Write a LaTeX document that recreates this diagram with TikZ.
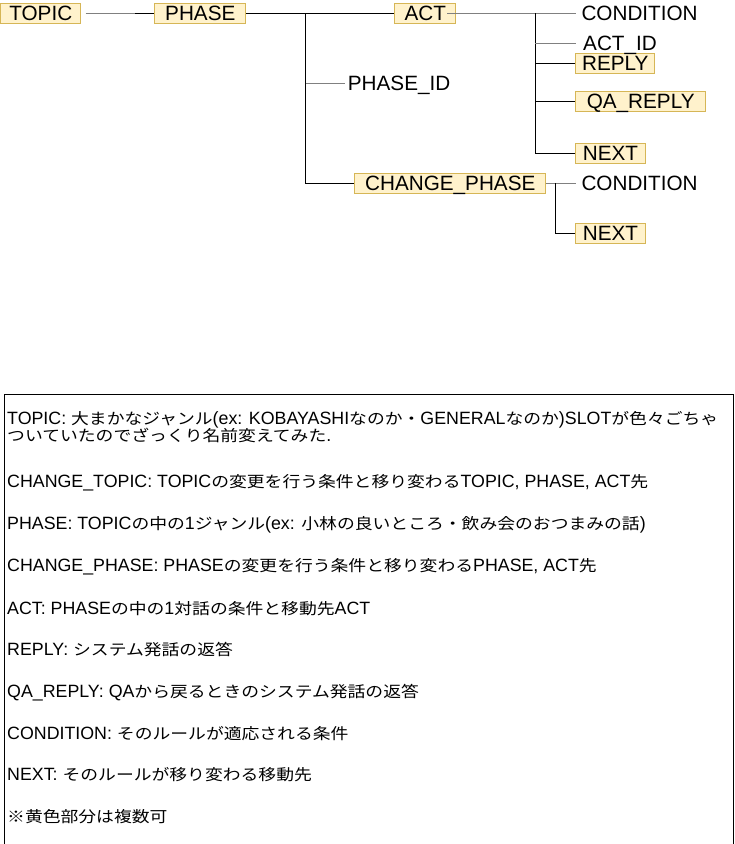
\documentclass[tikz,border=0pt]{standalone}
\usepackage{fontspec}
\setmainfont{Liberation Sans}
\newfontfamily\jp[Scale=0.87, FakeStretch=1.15]{Noto Sans CJK JP}
\newcommand\diagfont{\fontsize{20.7pt}{24pt}\selectfont}
\newcommand\notefont{\fontsize{17.8pt}{21pt}\selectfont}
\definecolor{boxfill}{HTML}{FFF2CC}
\definecolor{boxline}{HTML}{D6B656}
\definecolor{linegray}{HTML}{808080}
\tikzset{
  ybox/.style={draw=boxline, fill=boxfill, line width=1pt, inner sep=0pt,
    minimum height=20pt, text height=14.8pt, text depth=0pt, font=\diagfont},
  lbl/.style={inner sep=0pt, anchor=west, text height=14.8pt, text depth=0pt, font=\diagfont},
  blk/.style={draw=black, line width=1.2pt},
  gry/.style={draw=linegray, line width=1.6pt},
  note/.style={inner sep=0pt, anchor=base west, font=\notefont},
}
\begin{document}
\begin{tikzpicture}[x=1pt,y=-1pt]
\useasboundingbox (0,0) rectangle (735,844);
% tree boxes
\node[ybox, minimum width=80pt]    (topic)   at (40.8,13.3)  {TOPIC};
\node[ybox, minimum width=90.7pt]  (phase)   at (200.3,13.3) {PHASE};
\node[ybox, minimum width=60.7pt]  (act)     at (425.3,13.3) {ACT};
\node[ybox, minimum width=79.3pt]  (reply)   at (615.3,63.3) {REPLY};
\node[ybox, minimum width=130pt]   (qareply) at (640.7,101.3) {QA\_REPLY};
\node[ybox, minimum width=69.6pt]  (next1)   at (610.5,153.3) {NEXT};
\node[ybox, minimum width=190.7pt] (cp)      at (450.3,183.3) {CHANGE\_PHASE};
\node[ybox, minimum width=69.6pt]  (next2)   at (610.5,233.3) {NEXT};
% plain labels
\node[lbl] (cond1)   at (581.3,13.3)  {CONDITION};
\node[lbl] (actid)   at (583,43.3)    {ACT\_ID};
\node[lbl] (phaseid) at (347.7,83.3)  {PHASE\_ID};
\node[lbl] (cond2)   at (581.3,183.3) {CONDITION};
% junction points
\coordinate (tp) at (135,13.3);
\coordinate (pv) at (305.7,13.3);
\coordinate (av) at (535.3,13.3);
\coordinate (cv) at (555.7,183.3);
% connectors
\draw[gry] ([xshift=4.3pt]topic.east) -- (tp);
\draw[blk] (tp) -- (phase.west);
\draw[blk] (phase.east) -- (act.west);
\draw[blk] (pv) |- (cp.west);
\draw[gry, shorten >=2.7pt] (pv |- phaseid) -- (phaseid.west);
\draw[gry, shorten >=5.6pt] ([xshift=-9pt]act.east) -- (cond1.west);
\draw[blk] (av) |- (next1.west);
\draw[gry, shorten >=7.3pt] (av |- actid) -- (actid.west);
\draw[blk] (av |- reply) -- (reply.west);
\draw[blk] (av |- qareply) -- (qareply.west);
\draw[gry, shorten >=5.6pt] (cp.east) -- (cond2.west);
\draw[blk] (cv) |- (next2.west);
% legend box
\node[draw=black, line width=1pt, inner sep=0pt, anchor=north west,
      minimum width=728.5pt, minimum height=450pt] (legend) at (4,393.5) {};
\node[note] (t1)  at (7,424.3) {TOPIC: {\jp 大まかなジャンル}(ex: KOBAYASHI{\jp なのか・}GENERAL{\jp なのか})SLOT{\jp が色々ごちゃ}};
\node[note] (t2)  at (7,441)   {{\jp ついていたのでざっくり名前変えてみた}.};
\node[note] (t3)  at (7,487.3) {CHANGE\_TOPIC: TOPIC{\jp の変更を行う条件と移り変わる}TOPIC, PHASE, ACT{\jp 先}};
\node[note] (t4)  at (7,529.2) {PHASE: TOPIC{\jp の中の}1{\jp ジャンル}(ex: {\jp 小林の良いところ・飲み会のおつまみの話})};
\node[note] (t5)  at (7,571.5) {CHANGE\_PHASE: PHASE{\jp の変更を行う条件と移り変わる}PHASE, ACT{\jp 先}};
\node[note] (t6)  at (7,614)   {ACT: PHASE{\jp の中の}1{\jp 対話の条件と移動先}ACT};
\node[note] (t7)  at (7,655.7) {REPLY: {\jp システム発話の返答}};
\node[note] (t8)  at (7,697.3) {QA\_REPLY: QA{\jp から戻るときのシステム発話の返答}};
\node[note] (t9)  at (7,739)   {CONDITION: {\jp そのルールが適応される条件}};
\node[note] (t10) at (7,780.7) {NEXT: {\jp そのルールが移り変わる移動先}};
\node[note] (t11) at (7,822.3) {{\jp ※黄色部分は複数可}};
\end{tikzpicture}
\end{document}
